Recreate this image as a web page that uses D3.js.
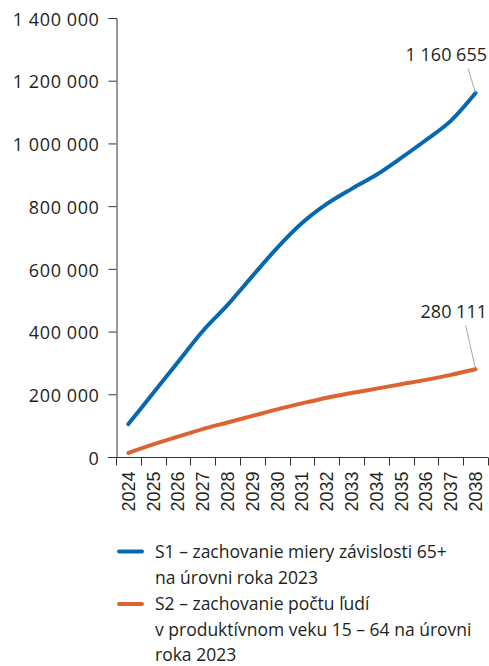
<!DOCTYPE html>
<html><head><meta charset="utf-8">
<script src="https://cdn.jsdelivr.net/npm/d3@7"></script>
<style>
body{margin:0;background:#fff;}
svg{display:block;font-family:"Open Sans",sans-serif;}
</style></head><body>
<svg id="c" width="489" height="666"></svg>
<script>
const years = ["2024","2025","2026","2027","2028","2029","2030","2031","2032","2033","2034","2035","2036","2037","2038"];
const s1 = [105000,204000,303000,402000,485000,577000,667000,746000,807000,855000,900000,954000,1011000,1072000,1160655];
const s2 = [13000,40000,65000,89000,110000,131000,152000,171000,189000,204000,218000,232000,246000,262000,280111];
const yTicks = [0,200000,400000,600000,800000,1000000,1200000,1400000];
const legendS1 = ["S1 – zachovanie miery závislosti 65+","na úrovni roka 2023"];
const legendS2 = ["S2 – zachovanie počtu ľudí","v produktívnom veku 15 – 64 na úrovni","roka 2023"];
const labelS1 = "1 160 655", labelS2 = "280 111";

const svg = d3.select("#c");
const fmt = v => d3.format(",")(v).replace(/,/g," ");
const x = d3.scaleBand().domain(years).range([116,488]);
const y = d3.scaleLinear().domain([0,1400000]).range([457,18]);
const ink = "#231f20";

// y axis
const ya = svg.append("g").attr("transform","translate(116.5,0)")
  .call(d3.axisLeft(y).tickValues(yTicks).tickFormat(fmt).tickSize(8).tickPadding(9));
ya.select(".domain").attr("stroke","#333");
ya.selectAll(".tick line").attr("stroke","#333");
ya.selectAll("text").attr("font-size",18).attr("fill",ink).attr("font-family","Open Sans")
  .attr("dy","0.4em").attr("letter-spacing","0.6");

// x axis
const xa = svg.append("g").attr("transform","translate(0,457.5)")
  .call(d3.axisBottom(x).tickSize(0).tickSizeOuter(0));
xa.select(".domain").attr("stroke","#333").attr("d","M108,0H488");
xa.selectAll(".tick text").remove();
const bounds = years.map((d,i)=>x(d)).concat([x.range()[1]]);
xa.selectAll(".bt").data(bounds).enter().append("line")
  .attr("x1",d=>Math.round(d)+0.5).attr("x2",d=>Math.round(d)+0.5)
  .attr("y1",0).attr("y2",8).attr("stroke","#333");
xa.selectAll(".yl").data(years).enter().append("text")
  .attr("transform",d=>`translate(${x(d)+x.bandwidth()/2+6.3},14) rotate(-90)`)
  .attr("text-anchor","end").attr("font-size",18).attr("fill",ink).text(d=>d);

// lines
const line = d3.line().x((d,i)=>x(years[i])+x.bandwidth()/2).y(d=>y(d)).curve(d3.curveMonotoneX);
svg.append("path").datum(s2).attr("d",line).attr("fill","none").attr("stroke","#dd6430").attr("stroke-width",4).attr("stroke-linecap","round");
svg.append("path").datum(s1).attr("d",line).attr("fill","none").attr("stroke","#0868ad").attr("stroke-width",4).attr("stroke-linecap","round");

// end labels
const ex = x(years[years.length-1])+x.bandwidth()/2;
function endLabel(val, text, dy, lx, ly){
  const py = y(val);
  svg.append("line").attr("x1",ex-lx).attr("y1",py-ly).attr("x2",ex).attr("y2",py)
    .attr("stroke","#8a9399").attr("stroke-width",0.8);
  svg.append("text").attr("x",487).attr("y",py-dy).attr("text-anchor","end")
    .attr("font-size",18).attr("fill",ink).text(text);
}
endLabel(s1[s1.length-1], labelS1, 32, 7.6, 24.5);
endLabel(s2[s2.length-1], labelS2, 51, 10, 44);

// legend
const lg = svg.append("g");
function legendItem(lines, color, y0, step){
  lg.append("line").attr("x1",119).attr("x2",142).attr("y1",y0-6).attr("y2",y0-6)
    .attr("stroke",color).attr("stroke-width",4).attr("stroke-linecap","round");
  lines.forEach((t,i)=>lg.append("text").attr("x",155).attr("y",y0+i*step)
    .attr("font-size",17.5).attr("fill",ink).text(t));
}
legendItem(legendS1,"#0868ad",557.5,26.5);
legendItem(legendS2,"#dd6430",610,25.5);
</script>
</body></html>
